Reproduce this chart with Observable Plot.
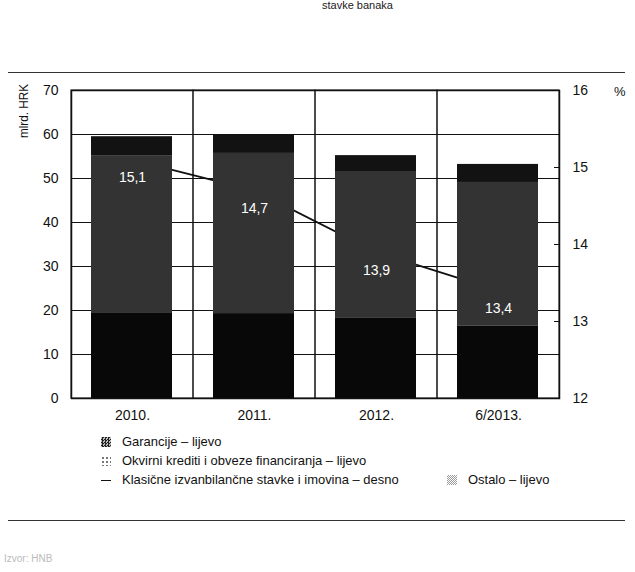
<!DOCTYPE html>
<html>
<head>
<meta charset="utf-8">
<script src="https://cdn.jsdelivr.net/npm/d3@7"></script>
<script src="https://cdn.jsdelivr.net/npm/@observablehq/plot@0.6"></script>
<style>
  body { margin: 0; background: #fff; }
  #wrap {
    position: relative; width: 635px; height: 572px; overflow: hidden; background: #fff;
    font-family: "Liberation Sans", Arial, sans-serif;
    color: #111;
  }
  #chart { position: absolute; left: 0; top: 0; }
  .title { position: absolute; top: 0px; left: 322px; font-size: 11px; line-height: 11px; white-space: nowrap; color: #222; }
  .rule { position: absolute; left: 8px; width: 617px; height: 0; border-top: 1.5px solid #333; }
  .unitL { position: absolute; left: 16px; top: 86px; font-size: 13px; transform-origin: left top;
           transform: rotate(-90deg) translate(-52px, 0) scaleX(0.9); white-space: nowrap; }
  .unitR { position: absolute; left: 614px; top: 84px; font-size: 13px; }
  .leg { position: absolute; font-size: 13.5px; white-space: nowrap; line-height: 16px;
         transform-origin: left center; transform: scaleX(0.96); }
  .ico { position: absolute; width: 10px; height: 10px; }
  .source { position: absolute; left: 4px; top: 553px; font-size: 10px; color: #bbb; }
</style>
</head>
<body>
<div id="wrap">
  <div class="title">stavke banaka</div>
  <div class="rule" style="top:72px"></div>
  <div class="unitL">mlrd. HRK</div>
  <div class="unitR">%</div>
  <div id="chart"></div>
  <div id="legend"></div>
  <div class="rule" style="top:520px"></div>
  <div class="source">Izvor: HNB</div>
</div>
<script>
// ---- data ----
const categories = ["2010.", "2011.", "2012.", "6/2013."];
const seriesNames = ["Garancije – lijevo", "Okvirni krediti i obveze financiranja – lijevo", "Ostalo – lijevo"];
const lineName = "Klasične izvanbilančne stavke i imovina – desno";
const garancije = [19.5, 19.3, 18.2, 16.4];
const okvirni = [35.7, 36.4, 33.2, 32.7];
const ostalo = [4.3, 4.1, 3.8, 4.1];
const klasicne = [15.1, 14.7, 13.9, 13.4];
const leftTicks = [0, 10, 20, 30, 40, 50, 60, 70];
const rightTicks = [12, 13, 14, 15, 16];

// ---- derived tables ----
const seriesValues = [garancije, okvirni, ostalo];
const rows = [];
categories.forEach((c, i) => {
  seriesNames.forEach((s, k) => rows.push({cat: c, series: s, value: seriesValues[k][i]}));
});
const lineRows = categories.map((c, i) => ({cat: c, pct: klasicne[i]}));
// right axis (12–16 %) mapped onto the left scale (0–70)
const pctToY = p => (p - 12) * 70 / 4;
const fmt = v => String(v).replace(".", ",");

const fontFam = '"Liberation Sans", Arial, sans-serif';

const chart = Plot.plot({
  width: 635,
  height: 432,
  marginLeft: 71,
  marginRight: 76,
  marginTop: 90,
  marginBottom: 34,
  style: {fontFamily: fontFam, fontSize: "14px", color: "#111", background: "transparent"},
  x: {domain: categories, padding: 0, axis: null},
  y: {domain: [0, 70], axis: null},
  color: {domain: seriesNames, range: ["#080808", "#333333", "#121212"]},
  marks: [
    Plot.ruleY(leftTicks.slice(1, -1), {stroke: "#111", strokeWidth: 1}),
    Plot.barY(categories, {x: d => d, y1: 0, y2: 70, fill: "none", stroke: "#111", strokeWidth: 1}),
    Plot.line(lineRows, {x: "cat", y: d => pctToY(d.pct), stroke: "#111", strokeWidth: 1.8}),
    Plot.barY(rows, {x: "cat", y: "value", fill: "series", insetLeft: 20, insetRight: 21}),
    Plot.text(lineRows, {x: "cat", y: d => pctToY(d.pct), text: d => fmt(d.pct), dy: 18, fill: "#fff", fontSize: 14}),
    Plot.axisY({anchor: "left", ticks: leftTicks, tickSize: 0, tickPadding: 13, label: null}),
    Plot.axisY({anchor: "right", ticks: rightTicks.map(pctToY), tickSize: 0, tickPadding: 13,
                tickFormat: v => String(Math.round(v * 4 / 70 + 12)), label: null}),
    Plot.axisY({anchor: "right", ticks: rightTicks.slice(1, -1).map(pctToY), tickSize: -6,
                tickFormat: () => "", label: null}),
    Plot.axisX({anchor: "bottom", tickSize: 0, tickPadding: 12, label: null}),
    Plot.frame({stroke: "#111", strokeWidth: 1.5})
  ]
});
document.getElementById("chart").appendChild(chart);

// ---- legend ----
const legend = document.getElementById("legend");
function addItem(text, x, y, iconStyle, lineIcon) {
  const ic = document.createElement("div");
  ic.className = "ico";
  ic.style.left = (x - 21) + "px";
  if (lineIcon) {
    ic.style.top = (y + 8) + "px"; ic.style.height = "0"; ic.style.borderTop = "1.5px solid #111";
  } else {
    ic.style.top = (y + 3) + "px"; ic.style.background = iconStyle;
  }
  legend.appendChild(ic);
  const t = document.createElement("div");
  t.className = "leg"; t.style.left = x + "px"; t.style.top = y + "px"; t.textContent = text;
  legend.appendChild(t);
}
const checker = "repeating-conic-gradient(#222 0% 25%, #bbb 0% 50%) 0 0 / 3px 3px";
const dots = "radial-gradient(#777 30%, transparent 35%) 0 0 / 4px 4px";
const speck = "repeating-conic-gradient(#999 0% 25%, #fff 0% 50%) 0 0 / 2px 2px";
addItem(seriesNames[0], 122, 434, checker, false);
addItem(seriesNames[1], 122, 453, dots, false);
addItem(lineName, 122, 472, null, true);
addItem(seriesNames[2], 468, 472, speck, false);
</script>
</body>
</html>
